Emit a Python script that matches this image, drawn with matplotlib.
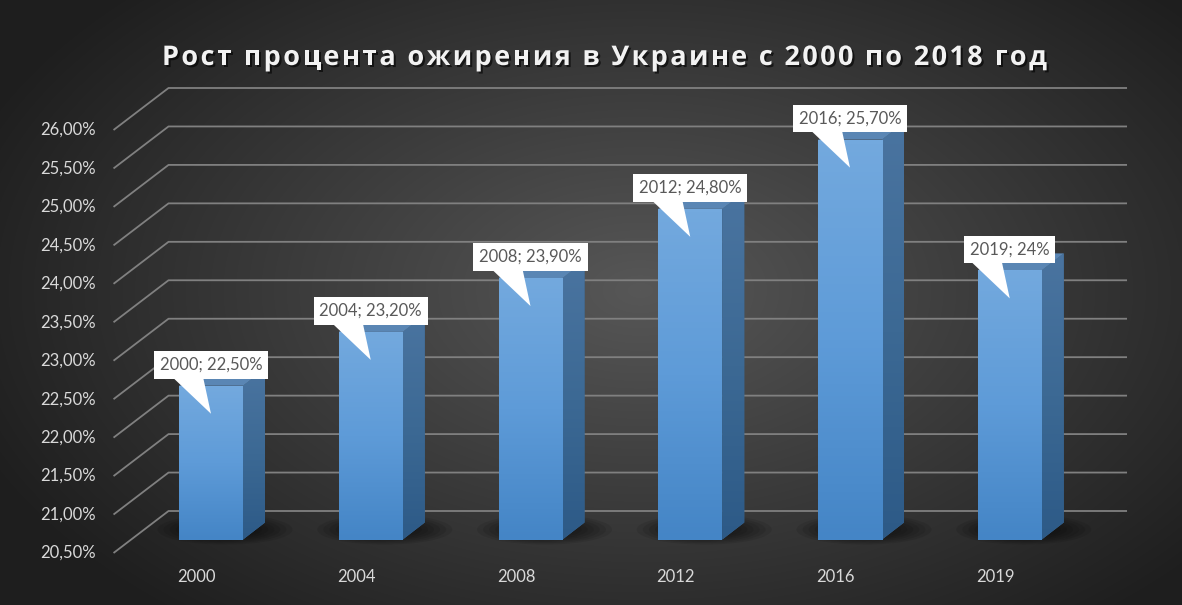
import numpy as np
import matplotlib
matplotlib.use("Agg")
import matplotlib.pyplot as plt
import matplotlib.patheffects as pe
from matplotlib.patches import Polygon, Ellipse
from matplotlib.colors import LinearSegmentedColormap

# data
years = ['2000', '2004', '2008', '2012', '2016', '2019']
values = [22.5, 23.2, 23.9, 24.8, 25.7, 24.0]
point_labels = ['2000; 22,50%', '2004; 23,20%', '2008; 23,90%',
                '2012; 24,80%', '2016; 25,70%', '2019; 24%']
y_ticks = [20.5, 21.0, 21.5, 22.0, 22.5, 23.0, 23.5, 24.0, 24.5, 25.0, 25.5, 26.0]
y_tick_labels = ['20,50%', '21,00%', '21,50%', '22,00%', '22,50%', '23,00%',
                 '23,50%', '24,00%', '24,50%', '25,00%', '25,50%', '26,00%']
title = 'Рост процента ожирения в Украине с 2000 по 2018 год'

W, H = 1182, 605
ymin, ymax = 20.5, 26.0

# pixel scale of the front plane
px_x = 159.75          # px per category
px_y = 423 / 5.5       # px per value unit
x0_px = 193.4          # px of category 0
ybase_px = 52          # px (from bottom) of 20.5 at the front

# depth projection (full depth)
DX = 55 / px_x
DY = 42 / px_y
fx, fy = 0.32 * DX, 0.32 * DY      # bar front plane offset
sdx, sdy = 22 / px_x, 17 / px_y    # bar side depth
bw = 64 / px_x

fig = plt.figure(figsize=(W / 100, H / 100), dpi=100)

# background radial gradient
bg = fig.add_axes([0, 0, 1, 1])
yy, xx = np.mgrid[0:H, 0:W]
r = np.sqrt(((xx - 640) / 720) ** 2 + ((yy - 290) / 430) ** 2)
r = np.clip(r, 0, 1)
grad = (0x57 * (1 - r) + 0x1e * r) / 255
bg.imshow(np.dstack([grad] * 3), extent=[0, 1, 0, 1], aspect='auto')
bg.axis('off')

ax = fig.add_axes([0, 0, 1, 1])
ax.patch.set_alpha(0)
ax.set_xlim(-x0_px / px_x, (W - x0_px) / px_x)
ax.set_ylim(ymin - ybase_px / px_y, ymin + (H - ybase_px) / px_y)
ax.axis('off')

# gridlines: diagonal on left wall, then horizontal on back wall
xl, xr = -0.5, len(years) - 0.5
for v in y_ticks:
    ax.plot([xl, xl + DX, xr + DX], [v, v + DY, v + DY],
            color='#808080', lw=1.3, zorder=1, solid_capstyle='butt')

for v, lab in zip(y_ticks, y_tick_labels):
    ax.text(xl - 18 / px_x, v, lab, ha='right', va='center', color='#d9d9d9',
            fontsize=12, family='Lato')

for i, yr in enumerate(years):
    ax.text(i + 0.02, ymin - 24 / px_y, yr, ha='center', va='center',
            color='#d9d9d9', fontsize=12, family='Lato')

# shadows under bars
for i in range(len(years)):
    cx = i + fx + 14 / px_x
    cy = ymin + fy + 10 / px_y
    for k in range(10):
        s = 1 - k * 0.09
        ax.add_patch(Ellipse((cx, cy), 135 / px_x * s, 30 / px_y * s,
                             color='black', alpha=0.09, lw=0, zorder=2))

front_cmap = LinearSegmentedColormap.from_list('front', ['#4485c6', '#5e9bd8', '#73a9de'])
side_cmap = LinearSegmentedColormap.from_list('side', ['#2d5a87', '#3c6994', '#4a74a0'])

x = np.arange(len(years)) + fx
heights = [v - ymin for v in values]
bars = ax.bar(x, heights, bottom=ymin + fy, width=bw, color='#5b99d8',
              lw=0, zorder=4)

for i, (b, v) in enumerate(zip(bars, values)):
    xl_b = x[i] - bw / 2
    xr_b = x[i] + bw / 2
    yb = ymin + fy
    yt = v + fy
    # front gradient
    im = ax.imshow(np.linspace(0, 1, 100).reshape(-1, 1), cmap=front_cmap,
                   extent=[xl_b, xr_b, yb, yt], aspect='auto', origin='lower',
                   zorder=4.5)
    im.set_clip_path(b)
    # side face
    side = Polygon([(xr_b, yb), (xr_b + sdx, yb + sdy), (xr_b + sdx, yt + sdy),
                    (xr_b, yt)], closed=True, lw=0, color='#3c6994', zorder=3)
    ax.add_patch(side)
    ims = ax.imshow(np.linspace(0, 1, 100).reshape(-1, 1), cmap=side_cmap,
                    extent=[xr_b, xr_b + sdx, yb, yt + sdy], aspect='auto',
                    origin='lower', zorder=3.5)
    ims.set_clip_path(side)
    # top face
    ax.add_patch(Polygon([(xl_b, yt), (xr_b, yt), (xr_b + sdx, yt + sdy),
                          (xl_b + sdx, yt + sdy)], closed=True, lw=0,
                         color='#5a86b4', zorder=3.8))

# data label callouts
for i, (v, lab) in enumerate(zip(values, point_labels)):
    xc = x[i]
    ytop = v + fy
    ax.text(xc, ytop + 13 / px_y, lab, ha='center', va='bottom', color='#595959',
            fontsize=12, family='Lato', zorder=7,
            bbox=dict(boxstyle='square,pad=0.35', fc='white', ec='none'))
    ax.add_patch(Polygon([(xc - 39 / px_x, ytop + 9 / px_y),
                          (xc - 8 / px_x, ytop + 9 / px_y),
                          (xc, ytop - 28 / px_y)], closed=True, lw=0,
                         color='white', zorder=6.9))

# title with letter spacing
renderer = fig.canvas.get_renderer()
tkw = dict(fontsize=19.5, family='Open Sans', weight='bold')


def text_w(s):
    t = fig.text(0, 0, s, **tkw)
    w = t.get_window_extent(renderer=renderer).width
    t.remove()
    return w


bar_w = text_w('|')
natural = text_w(title)
target = 885
sp = (target - natural) / (len(title) - 1)
start = 162
for k, ch in enumerate(title):
    if ch == ' ':
        continue
    pw = text_w(title[:k] + '|') - bar_w if k > 0 else 0
    fig.text((start + pw + k * sp) / W, (H - 65) / H, ch, ha='left',
             va='baseline', color='#f2f2f2', **tkw,
             path_effects=[pe.withSimplePatchShadow(offset=(1.5, -1.5),
                                                    shadow_rgbFace='black',
                                                    alpha=0.6)])

fig.savefig('out.png', dpi=100)
